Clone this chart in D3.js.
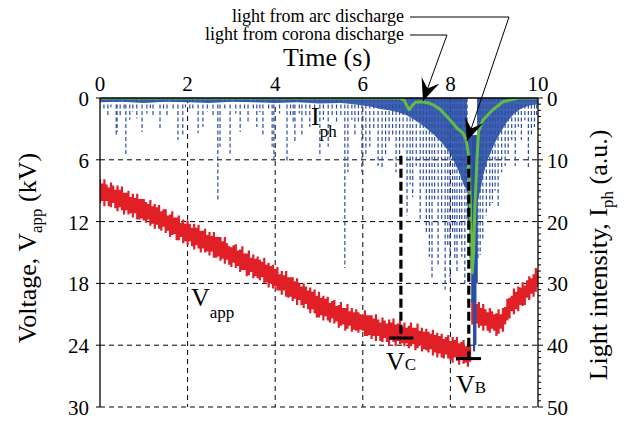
<!DOCTYPE html>
<html><head><meta charset="utf-8">
<script src="https://cdn.jsdelivr.net/npm/d3@7"></script>
<style>
body{margin:0;background:#fff;}
svg{display:block;font-family:"Liberation Serif","Times New Roman",serif;}
</style></head><body>
<svg id="c" width="625" height="423"></svg>
<script>
// ---------- data ----------
const timeTicks=[0,2,4,6,8,10];
const voltTicks=[0,6,12,18,24,30];
const lightTicks=[0,10,20,30,40,50];

// applied voltage band (kV), sampled every 0.05 s
const vTime=[0,0.05,0.1,0.15,0.2,0.25,0.3,0.35,0.4,0.45,0.5,0.55,0.6,0.65,0.7,0.75,0.8,0.85,0.9,0.95,
1,1.05,1.1,1.15,1.2,1.25,1.3,1.35,1.4,1.45,1.5,1.55,1.6,1.65,1.7,1.75,1.8,1.85,1.9,1.95,
2,2.05,2.1,2.15,2.2,2.25,2.3,2.35,2.4,2.45,2.5,2.55,2.6,2.65,2.7,2.75,2.8,2.85,2.9,2.95,
3,3.05,3.1,3.15,3.2,3.25,3.3,3.35,3.4,3.45,3.5,3.55,3.6,3.65,3.7,3.75,3.8,3.85,3.9,3.95,
4,4.05,4.1,4.15,4.2,4.25,4.3,4.35,4.4,4.45,4.5,4.55,4.6,4.65,4.7,4.75,4.8,4.85,4.9,4.95,
5,5.05,5.1,5.15,5.2,5.25,5.3,5.35,5.4,5.45,5.5,5.55,5.6,5.65,5.7,5.75,5.8,5.85,5.9,5.95,
6,6.05,6.1,6.15,6.2,6.25,6.3,6.35,6.4,6.45,6.5,6.55,6.6,6.65,6.7,6.75,6.8,6.85,6.9,6.95,
7,7.05,7.1,7.15,7.2,7.25,7.3,7.35,7.4,7.45,7.5,7.55,7.6,7.65,7.7,7.75,7.8,7.85,7.9,7.95,
8,8.05,8.1,8.15,8.2,8.25,8.3,8.35,8.4,8.45,8.5,8.55,8.6,8.65,8.7,8.75,8.8,8.85,8.9,8.95,
9,9.05,9.1,9.15,9.2,9.25,9.3,9.35,9.4,9.45,9.5,9.55,9.6,9.65,9.7,9.75,9.8,9.85,9.9,9.95,10];
const vLow=[7.9,8.3,7.9,8.4,8.7,8.2,8.5,8.9,8.5,8.9,8.6,9.2,9.2,9.0,9.6,9.3,9.7,9.3,9.8,9.8,
9.8,10.1,10.3,9.9,10.5,10.3,10.6,10.4,11.0,10.8,10.8,11.4,11.3,11.0,11.6,11.6,11.4,12.1,11.8,12.2,
11.9,12.2,12.6,12.2,12.6,12.3,12.9,12.9,12.7,13.3,13.0,13.4,13.0,13.5,13.5,13.5,13.9,13.5,14.1,14.4,
14.5,14.3,14.2,14.8,14.7,14.4,15.1,15.1,14.8,15.5,15.2,15.6,15.4,15.7,15.9,15.5,16.2,16.0,16.3,16.2,
16.6,16.4,17.1,16.8,17.2,16.8,17.4,17.4,17.4,17.8,17.5,18.0,18.3,18.0,18.3,18.7,18.4,18.8,18.6,19.2,
18.8,19.4,19.2,19.5,19.3,19.9,19.7,19.6,20.2,20.1,19.8,20.4,20.4,20.0,20.7,20.4,20.8,20.5,20.8,21.0,
21.1,20.6,21.1,21.1,21.1,21.4,21.0,21.5,21.8,21.3,21.6,21.9,21.5,21.8,21.4,22.0,21.9,21.6,22.2,21.8,
22.3,22.1,21.8,22.3,22.3,21.9,22.6,22.3,22.7,22.4,22.7,22.9,22.5,23.0,22.8,23.1,22.9,23.4,23.2,23.0,
23.6,23.2,23.5,23.2,23.8,23.7,23.5,24.1,23.8,24.1,19.5,20.0,20.0,19.8,20.4,20.0,20.5,20.8,20.4,20.7,
21.0,20.9,20.5,21.0,20.4,20.3,19.5,19.4,19.2,18.5,18.8,18.3,18.4,17.9,18.2,17.7,17.3,17.5,17.1,16.5,16.7];
const vHigh=[10.2,10.0,10.5,10.0,10.5,10.6,10.2,10.7,11.0,10.6,10.9,11.3,10.9,11.3,11.2,11.6,11.2,11.8,11.8,11.7,
11.9,12.1,11.8,12.4,12.2,12.7,12.3,12.7,12.9,12.5,13.1,12.9,13.5,13.3,13.2,13.8,13.8,13.5,14.1,13.9,
14.3,13.9,14.4,14.7,14.3,14.6,15.0,14.6,15.0,14.9,15.3,14.9,15.5,15.5,15.4,15.8,15.6,16.1,15.7,16.2,
16.4,16.0,16.5,16.3,16.9,16.7,16.7,17.3,17.2,16.9,17.5,17.3,17.5,17.7,17.4,18.0,17.9,18.4,18.0,18.5,
18.3,18.7,18.7,19.1,18.7,19.3,19.4,19.3,19.7,19.5,20.1,19.6,20.1,20.4,20.0,20.5,20.9,20.5,20.9,21.3,
21.3,21.1,21.6,21.2,21.6,21.8,21.4,21.9,21.7,22.3,22.1,22.0,22.6,22.4,22.1,22.7,22.5,22.6,22.8,22.5,
22.6,23.1,23.1,23.0,23.4,23.1,23.6,23.1,23.6,23.7,23.3,23.7,24.0,23.5,23.7,24.1,23.6,23.9,23.8,24.1,
23.8,24.3,24.1,23.9,24.5,24.3,24.0,24.6,24.4,24.5,24.7,24.4,25.0,24.7,25.2,24.8,25.2,25.3,24.9,25.3,
25.4,25.7,25.2,25.5,25.9,25.4,25.8,25.7,26.1,25.6,22.0,22.0,21.9,22.3,22.1,22.6,22.1,22.6,22.8,22.4,
22.6,23.1,22.9,22.4,22.7,22.0,21.6,21.4,20.7,21.0,20.5,20.7,20.1,20.2,20.1,19.4,19.6,19.0,19.3,18.8,18.3];

// light intensity: dense envelope of pulses (a.u.), null = no light near zero
const denseT=[0,0.5,1,1.5,2,2.5,3,3.5,4,4.5,5,5.5,5.8,6.0,6.2,6.4,6.6,6.8,7.0,7.2,7.4,7.6,7.8,8.0,8.1,8.2,8.3,8.38,8.5,8.61,8.68,8.75,8.85,9.0,9.15,9.3,9.45,9.6,9.8,10];
const denseI=[0.7,0.6,0.8,0.6,0.7,0.8,0.6,0.7,0.8,0.7,0.9,0.8,1.0,1.2,1.4,1.8,2.0,2.3,2.8,3.6,4.6,5.8,7.2,9.0,10.5,12,14,15,null,17,15,12.5,10,7.5,5.5,3.8,2.6,1.8,1.2,1.0];

// individual light pulses (time s, intensity a.u.)
const spikeT=[0.09,0.18,0.25,0.37,0.39,0.46,0.55,0.59,0.68,0.75,0.84,0.96,1.07,1.15,1.21,1.37,1.45,1.53,1.67,1.78,1.89,1.95,
2.05,2.12,2.24,2.35,2.45,2.58,2.69,2.74,2.85,2.97,3.10,3.20,3.30,3.38,3.50,3.58,3.65,3.72,3.85,3.93,3.97,
4.10,4.27,4.35,4.41,4.45,4.55,4.61,4.70,4.79,4.90,5.02,5.10,5.21,5.30,5.40,5.50,5.59,5.66,5.75,5.82,5.90,5.98,
6.07,6.16,6.25,6.35,6.44,6.52,6.60,6.68,6.76,6.84,6.92,7.01,7.08,7.14,7.22,7.31,7.38,7.45,7.52,7.58,7.64,7.72,7.80,7.88,7.94,7.99,
8.05,8.10,8.15,8.21,8.26,8.33,8.38,8.63,8.68,8.74,8.82,8.90,8.96,9.02,9.09,9.17,9.25,9.32,9.40,9.48,9.55,9.62,9.70,9.78,9.85,9.92,9.97];
const spikeI=[2.0,3.0,1.5,6.3,5.5,3.0,1.8,9.2,3.5,2.2,3.3,5.5,2.5,1.6,2.8,4.9,2.0,3.0,2.0,6.8,6.0,1.5,
2.0,2.0,5.7,4.7,2.2,3.0,16.8,7.9,1.8,9.0,2.5,5.5,2.0,3.9,1.7,4.7,2.3,6.3,2.0,7.9,10.5,
2.5,10.4,3.0,4.0,7.1,2.5,6.3,3.0,4.7,2.2,9.5,3.5,7.9,2.8,4.0,3.0,27.5,12.0,3.5,6.0,4.0,12.0,
9.5,7.9,5.0,11.0,11.6,9.5,7.3,6.0,12.0,10.0,8.0,19.0,14.0,16.0,11.0,19.7,14.4,22.0,25.7,29.0,16.5,27.0,20.0,31.0,24.0,29.0,
22.0,26.0,28.0,23.0,25.7,30.0,20.0,26.2,25.4,23.0,19.0,17.6,17.0,15.0,17.6,12.0,11.0,9.5,6.8,11.0,4.7,6.8,3.6,11.2,6.3,4.7,3.0];

// arc discharge pulse (solid)
const arcT=[8.42,8.46,8.50,8.54,8.57,8.60];
const arcI=[20,26,33,41,40,30];

// smoothed light (green)
const greenT=[0,6.85,6.95,7.0,7.06,7.12,7.2,7.37,7.5,7.6,7.76,7.92,8.05,8.15,8.29,8.36,8.41,8.45,8.48,8.5,8.53,8.56,8.61,8.64,8.74,8.97,9.2,9.43,9.55,10];
const greenI=[0,0,0.4,1.2,1.9,1.3,0.7,0.6,0.8,1.1,1.8,3.0,4.0,4.9,5.7,6.8,9.0,16,24,28.3,25,17.6,9.5,5.5,3.6,1.9,0.6,0.2,0,0];

// corona (C) / breakdown (B) markers
const markT=[6.87,8.42];
const markV=[23.3,25.3];
const markTop=[5.6,5.6];
const markBarL=[6.60,8.13];
const markBarR=[7.15,8.70];
const markName=["C","B"];

// ---------- drawing ----------
const svg=d3.select("#c");
const L=100,R=538,T=98,B=407;
const x=d3.scaleLinear().domain([0,10]).range([L,R]);
const yV=d3.scaleLinear().domain([0,30]).range([T,B]);
const yI=d3.scaleLinear().domain([0,50]).range([T,B]);

svg.append("defs").append("clipPath").attr("id","pc")
  .append("rect").attr("x",L).attr("y",T).attr("width",R-L).attr("height",B-T);

// grid
const grid=svg.append("g").attr("stroke","#000").attr("stroke-width",1).attr("stroke-dasharray","5,4");
timeTicks.filter(d=>d>0&&d<10).forEach(d=>{
  grid.append("line").attr("x1",x(d)).attr("x2",x(d)).attr("y1",T).attr("y2",B);
});
voltTicks.filter(d=>d>0).forEach(d=>{
  grid.append("line").attr("x1",L).attr("x2",R).attr("y1",yV(d)).attr("y2",yV(d));
});

const plot=svg.append("g").attr("clip-path","url(#pc)");

// red voltage band
const vData=vTime.map((t,i)=>({t,lo:vLow[i],hi:vHigh[i]}));
plot.append("path").datum(vData)
  .attr("fill","#e01f26")
  .attr("d",d3.area().curve(d3.curveStep).x(d=>x(d.t)).y0(d=>yV(d.lo)).y1(d=>yV(d.hi)));

// blue dense light
const blue="#2a4ea6";
const dData=denseT.map((t,i)=>({t,i:denseI[i]}));
plot.append("path").datum(dData)
  .attr("fill",blue).attr("fill-opacity",0.9)
  .attr("d",d3.area().defined(d=>d.i!==null).x(d=>x(d.t)).y0(yI(0)).y1(d=>yI(d.i)));

// pulses
plot.append("g").selectAll("line").data(spikeT.map((t,i)=>({t,i:spikeI[i]}))).join("line")
  .attr("x1",d=>x(d.t)).attr("x2",d=>x(d.t))
  .attr("y1",yI(0)).attr("y2",d=>yI(d.i))
  .attr("stroke",blue).attr("stroke-width",1.2).attr("stroke-dasharray","4,2.5");

plot.append("g").selectAll("line").data(arcT.map((t,i)=>({t,i:arcI[i]}))).join("line")
  .attr("x1",d=>x(d.t)).attr("x2",d=>x(d.t))
  .attr("y1",yI(6)).attr("y2",d=>yI(d.i))
  .attr("stroke",blue).attr("stroke-width",2.2);

// green smoothed
plot.append("path").datum(greenT.map((t,i)=>({t,i:greenI[i]})))
  .attr("fill","none").attr("stroke","#62bb46").attr("stroke-width",3).attr("stroke-linejoin","round")
  .attr("d",d3.line().x(d=>x(d.t)).y(d=>yI(d.i)));

// markers V_C, V_B
markT.forEach((t,k)=>{
  svg.append("line").attr("x1",x(t)).attr("x2",x(t)).attr("y1",yV(markTop[k])).attr("y2",yV(markV[k]))
    .attr("stroke","#000").attr("stroke-width",3.2).attr("stroke-dasharray","9,4");
  svg.append("line").attr("x1",x(markBarL[k])).attr("x2",x(markBarR[k])).attr("y1",yV(markV[k])).attr("y2",yV(markV[k]))
    .attr("stroke","#000").attr("stroke-width",3);
});

// axes frame
const ax=svg.append("g").attr("stroke","#000").attr("stroke-width",1.3);
ax.append("line").attr("x1",L).attr("x2",R).attr("y1",T).attr("y2",T);
ax.append("line").attr("x1",L).attr("x2",L).attr("y1",T).attr("y2",B);
ax.append("line").attr("x1",R).attr("x2",R).attr("y1",T).attr("y2",B);
// right ticks (minor every 1 a.u.)
yI.ticks(50).forEach(v=>{
  const major=v%10===0;
  svg.append("line").attr("x1",R).attr("x2",R+(major?5:3)).attr("y1",yI(v)).attr("y2",yI(v))
    .attr("stroke","#000").attr("stroke-width",1);
});
voltTicks.forEach(v=>{
  svg.append("line").attr("x1",L-4).attr("x2",L).attr("y1",yV(v)).attr("y2",yV(v)).attr("stroke","#000").attr("stroke-width",1);
});

// tick labels
const tl=svg.append("g").attr("font-size",21).attr("fill","#000");
timeTicks.forEach(d=>tl.append("text").attr("x",x(d)).attr("y",91).attr("text-anchor","middle").text(d));
voltTicks.forEach(d=>tl.append("text").attr("x",89).attr("y",yV(d)+8).attr("text-anchor","end").text(d));
lightTicks.forEach(d=>tl.append("text").attr("x",547).attr("y",yI(d)+8).attr("text-anchor","start").text(d));

// titles
svg.append("text").attr("x",327).attr("y",66).attr("text-anchor","middle").attr("font-size",26).text("Time (s)");
const lt=svg.append("text").attr("transform","translate(36,248) rotate(-90)").attr("text-anchor","middle").attr("font-size",26);
lt.append("tspan").text("Voltage, V");
lt.append("tspan").attr("font-size",17).attr("dy",6).text("app");
lt.append("tspan").attr("dy",-6).text(" (kV)");
const rt=svg.append("text").attr("transform","translate(607,255) rotate(-90)").attr("text-anchor","middle").attr("font-size",26);
rt.append("tspan").text("Light intensity, I");
rt.append("tspan").attr("font-size",17).attr("dy",6).text("ph");
rt.append("tspan").attr("dy",-6).text(" (a.u.)");

// series labels
function subLabel(x0,y0,main,sub,dy){
  const t=svg.append("text").attr("x",x0).attr("y",y0).attr("font-size",26);
  t.append("tspan").text(main);
  t.append("tspan").attr("font-size",17).attr("dy",dy).text(sub);
}
subLabel(191,306,"V","app",12);
subLabel(311,125,"I","ph",12);
subLabel(386,370,"V",markName[0],0);
subLabel(456,393,"V",markName[1],0);

// annotations
const an=svg.append("g").attr("font-size",18);
an.append("text").attr("x",404).attr("y",22).attr("text-anchor","end").text("light from arc discharge");
an.append("text").attr("x",404).attr("y",40).attr("text-anchor","end").text("light from corona discharge");
function leader(pts,tip){
  const all=pts.concat([tip]);
  svg.append("path").attr("d",d3.line()(all)).attr("fill","none").attr("stroke","#000").attr("stroke-width",1);
  const p=pts[pts.length-1];
  const dx=tip[0]-p[0],dy=tip[1]-p[1],len=Math.hypot(dx,dy);
  const ux=dx/len,uy=dy/len,nx=-uy,ny=ux;
  const Lh=22,W=9.5;
  const b=[tip[0]-ux*Lh,tip[1]-uy*Lh];
  const n=[tip[0]-ux*Lh*0.6,tip[1]-uy*Lh*0.6];
  svg.append("path").attr("d",`M${tip[0]},${tip[1]}L${b[0]+nx*W},${b[1]+ny*W}L${n[0]},${n[1]}L${b[0]-nx*W},${b[1]-ny*W}Z`).attr("fill","#000");
}
leader([[410,17],[509,17]],[467,141]);
leader([[410,35],[447,35]],[423,101]);
</script>
</body></html>
